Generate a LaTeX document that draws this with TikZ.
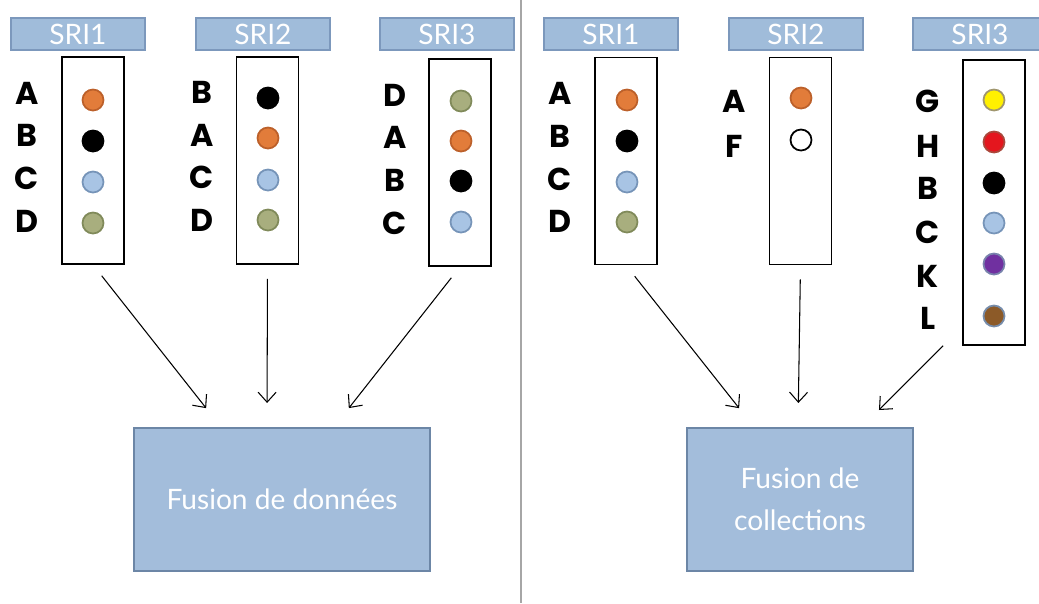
\documentclass[tikz,border=0pt]{standalone}
\usepackage{fontspec}
\setmainfont{Lato}
\newfontfamily\letterfont{Poppins}
\usetikzlibrary{positioning,calc,arrows.meta}

\definecolor{hdrfill}{RGB}{160,188,218}
\definecolor{hdredge}{RGB}{124,152,188}
\definecolor{fusfill}{RGB}{163,189,219}
\definecolor{fusedge}{RGB}{108,134,166}
\definecolor{cA}{RGB}{226,124,58}   \definecolor{cAedge}{RGB}{188,96,42}
\definecolor{cB}{RGB}{0,0,0}        \definecolor{cBedge}{RGB}{0,0,0}
\definecolor{cC}{RGB}{168,196,228}  \definecolor{cCedge}{RGB}{118,148,184}
\definecolor{cD}{RGB}{168,174,126}  \definecolor{cDedge}{RGB}{128,138,90}
\definecolor{cF}{RGB}{255,255,255}  \definecolor{cFedge}{RGB}{0,0,0}
\definecolor{cG}{RGB}{255,240,0}    \definecolor{cGedge}{RGB}{160,150,110}
\definecolor{cH}{RGB}{228,22,30}    \definecolor{cHedge}{RGB}{170,72,60}
\definecolor{cK}{RGB}{112,48,160}   \definecolor{cKedge}{RGB}{120,130,172}
\definecolor{cL}{RGB}{140,90,40}    \definecolor{cLedge}{RGB}{118,140,170}

\begin{document}
\begin{tikzpicture}[x=0.02cm, y=-0.02cm,
    >={Straight Barb[length=2mm,width=3.6mm]},
    hdr/.style={draw=hdredge, fill=hdrfill, line width=1.2pt, inner sep=0,
        minimum width=2.68cm, minimum height=0.64cm, text=white,
        font=\fontsize{16}{18}\selectfont},
    list/.style={draw, line width=0.9pt, minimum width=1.24cm, minimum height=4.14cm, inner sep=0},
    dot/.style={circle, line width=1pt, minimum size=0.42cm, inner sep=0},
    lbl/.style={inner sep=0, font=\letterfont\bfseries\fontsize{18}{20}\selectfont},
    fusion/.style={draw=fusedge, fill=fusfill, line width=1.2pt, align=center,
        minimum height=2.86cm, text=white, font=\fontsize{16}{24}\selectfont},
    feed/.style={->, line width=0.6pt, shorten <=0.28cm, shorten >=0.48cm}]
    \clip (0,0) rectangle (1039,603);
    \draw[gray!70, line width=0.6pt] (521,0) -- (521,603);

    % donnees (left)
    \node[hdr] at (78,34) (hL1) {SRI1};
    \node[hdr] at (263,34) (hL2) {SRI2};
    \node[hdr] at (447,34) (hL3) {SRI3};
    \node[list] at (93,160.5) (bL1) {};
    \node[list] at (267.5,160.5) (bL2) {};
    \node[list] at (460,162.5) (bL3) {};
    \foreach \lab/\y/\ly in {A/100/93, B/141/135, C/182/178, D/223/221}{
        \node[dot, fill=c\lab, draw=c\lab edge] at (93,\y) (dL1\lab) {};
        \node[lbl] at (27,\ly) (tL1\lab) {\lab};}
    \foreach \lab/\y/\ly in {B/98/92, A/138/135, C/180/177, D/220/220}{
        \node[dot, fill=c\lab, draw=c\lab edge] at (268,\y) (dL2\lab) {};
        \node[lbl] at (202,\ly) (tL2\lab) {\lab};}
    \foreach \lab/\y/\ly in {D/101/95, A/141/137, B/181/180, C/222/223}{
        \node[dot, fill=c\lab, draw=c\lab edge] at (461,\y) (dL3\lab) {};
        \node[lbl] at (395,\ly) (tL3\lab) {\lab};}
    \node[fusion, minimum width=5.92cm] at (282,499.5) (fusL) {Fusion de données};

    % collections (right)
    \node[hdr] at (611,34) (hR1) {SRI1};
    \node[hdr] at (796,34) (hR2) {SRI2};
    \node[hdr] at (980,34) (hR3) {SRI3};
    \node[list] at (626,161) (bR1) {};
    \node[list] at (800.5,161) (bR2) {};
    \node[list, minimum height=5.7cm] at (994,202.5) (bR3) {};
    \foreach \lab/\y/\ly in {A/100/93, B/141/136, C/182/179, D/222/221}{
        \node[dot, fill=c\lab, draw=c\lab edge] at (627,\y) (dR1\lab) {};
        \node[lbl] at (560,\ly) (tR1\lab) {\lab};}
    \foreach \lab/\y/\ly in {A/98/101, F/140/146}{
        \node[dot, fill=c\lab, draw=c\lab edge] at (801,\y) (dR2\lab) {};
        \node[lbl] at (734,\ly) (tR2\lab) {\lab};}
    \foreach \lab/\y/\ly in {G/100/101, H/142/146, B/183/188, C/223/232, K/264/276, L/316/318}{
        \node[dot, fill=c\lab, draw=c\lab edge] at (994,\y) (dR3\lab) {};
        \node[lbl] at (928,\ly) (tR3\lab) {\lab};}
    \node[fusion, minimum width=4.52cm] at (800,499.5) (fusR) {Fusion de\\collections};

    \draw[feed] (bL1.south) -- ($(fusL.north)+(-61,0)$);
    \draw[feed] (bL2.south) -- ($(fusL.north)+(-15,0)$);
    \draw[feed] (bL3.south) -- ($(fusL.north)+(52,0)$);
    \draw[feed] (bR1.south) -- ($(fusR.north)+(-46,0)$);
    \draw[feed] (bR2.south) -- ($(fusR.north)+(-2,0)$);
    \draw[feed, shorten <=0pt] ($(bR3.south west)+(-19,0)$) -- ($(fusR.north)+(62,0)$);
\end{tikzpicture}
\end{document}
